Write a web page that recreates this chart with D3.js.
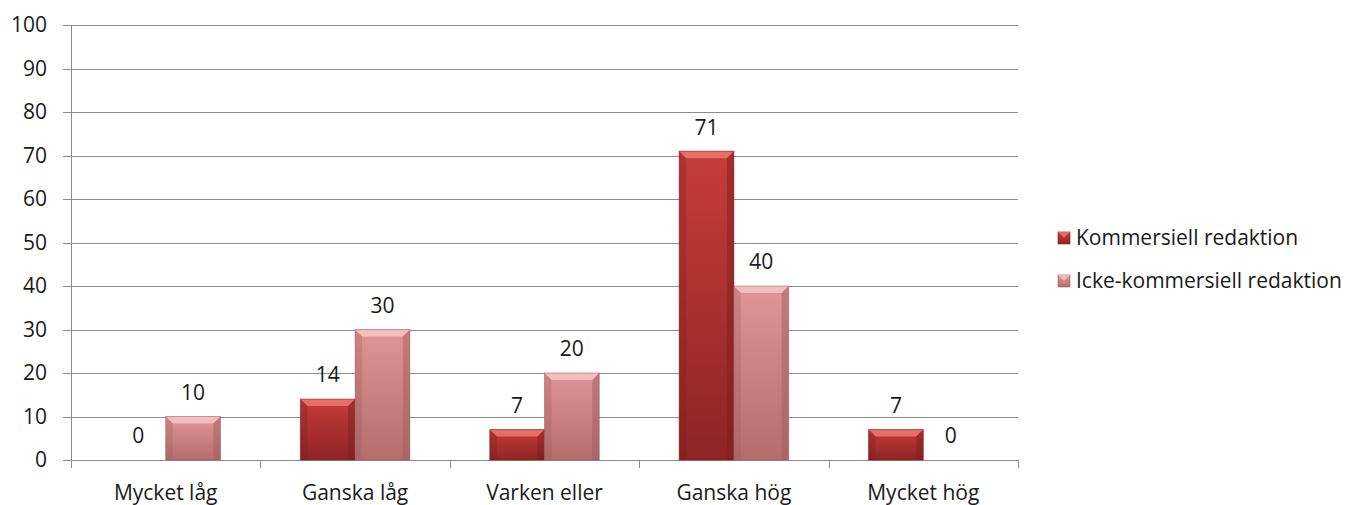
<!DOCTYPE html>
<html>
<head>
<meta charset="utf-8">
<script src="https://cdn.jsdelivr.net/npm/d3@7"></script>
<style>
  body { margin: 0; background: #fff; }
  text { font-family: "Open Sans", Lato, sans-serif; fill: #1a1a1a; }
</style>
</head>
<body>
<script>
// data
const categories = ["Mycket låg", "Ganska låg", "Varken eller", "Ganska hög", "Mycket hög"];
const seriesNames = ["Kommersiell redaktion", "Icke-kommersiell redaktion"];
const kommersiell = [0, 14, 7, 71, 7];
const ickeKommersiell = [10, 30, 20, 40, 0];
const yTicks = [0, 10, 20, 30, 40, 50, 60, 70, 80, 90, 100];

const width = 1357, height = 505;
const margin = { left: 71, right: 339, top: 25, bottom: 45 };
const fontSize = "21px";

const svg = d3.select("body").append("svg")
  .attr("width", width)
  .attr("height", height);

const x = d3.scaleBand()
  .domain(categories)
  .range([margin.left, width - margin.right]);

const xInner = d3.scaleBand()
  .domain(seriesNames)
  .range([0, x.bandwidth()])
  .paddingOuter(0.73);

const y = d3.scaleLinear()
  .domain([0, 100])
  .range([height - margin.bottom, margin.top]);

const colors = {
  "Kommersiell redaktion": { top: "#c53d3a", bottom: "#8e2424", hi: "#ea7470", dark: "#7a1d1d" },
  "Icke-kommersiell redaktion": { top: "#e09696", bottom: "#b46c6c", hi: "#f5c2c2", dark: "#9e5a5a" }
};

const defs = svg.append("defs");
seriesNames.forEach((s, i) => {
  const g = defs.append("linearGradient").attr("id", "grad" + i)
    .attr("x1", 0).attr("y1", 0).attr("x2", 0).attr("y2", 1);
  g.append("stop").attr("offset", "0%").attr("stop-color", colors[s].top);
  g.append("stop").attr("offset", "100%").attr("stop-color", colors[s].bottom);
});

// grid lines
svg.append("g")
  .selectAll("line")
  .data(yTicks)
  .join("line")
  .attr("x1", margin.left - 8)
  .attr("x2", width - margin.right)
  .attr("y1", d => Math.round(y(d)) + 0.5)
  .attr("y2", d => Math.round(y(d)) + 0.5)
  .attr("stroke", "#8c8c8c")
  .attr("stroke-width", 1);

// y labels
svg.append("g")
  .selectAll("text")
  .data(yTicks)
  .join("text")
  .attr("x", margin.left - 24)
  .attr("y", d => y(d))
  .attr("dy", "0.35em")
  .attr("text-anchor", "end")
  .style("font-size", fontSize)
  .text(d => d);

// y axis line
svg.append("line")
  .attr("x1", margin.left + 0.5).attr("x2", margin.left + 0.5)
  .attr("y1", y(100)).attr("y2", y(0))
  .attr("stroke", "#8c8c8c");

// category ticks
svg.append("g")
  .selectAll("line")
  .data(d3.range(categories.length + 1))
  .join("line")
  .attr("x1", i => Math.round(margin.left + i * x.step()) + 0.5)
  .attr("x2", i => Math.round(margin.left + i * x.step()) + 0.5)
  .attr("y1", y(0))
  .attr("y2", y(0) + 8)
  .attr("stroke", "#8c8c8c");

// x labels
svg.append("g")
  .selectAll("text")
  .data(categories)
  .join("text")
  .attr("x", d => x(d) + x.bandwidth() / 2)
  .attr("y", 493)
  .attr("dy", "0.35em")
  .attr("text-anchor", "middle")
  .style("font-size", fontSize)
  .text(d => d);

// bars
const rows = [];
categories.forEach((c, ci) => {
  rows.push({ cat: c, series: seriesNames[0], value: kommersiell[ci], idx: 0 });
  rows.push({ cat: c, series: seriesNames[1], value: ickeKommersiell[ci], idx: 1 });
});

const bars = svg.append("g")
  .selectAll("g")
  .data(rows)
  .join("g")
  .attr("transform", d => `translate(${x(d.cat) + xInner(d.series)},0)`);

const bw = xInner.bandwidth();
const bev = 7;

bars.filter(d => d.value > 0).each(function (d) {
  const g = d3.select(this);
  const top = y(d.value), bot = y(0);
  const h = bot - top;
  const b = Math.min(bev, h / 2);
  g.append("rect")
    .attr("x", 0).attr("y", top)
    .attr("width", bw).attr("height", h)
    .attr("fill", `url(#grad${d.idx})`);
  // top bevel
  g.append("path")
    .attr("d", `M0,${top}L${bw},${top}L${bw - b},${top + b}L${b},${top + b}Z`)
    .attr("fill", colors[d.series].hi).attr("opacity", 0.9);
  // side bevels
  g.append("path")
    .attr("d", `M0,${top}L${b},${top + b}L${b},${bot}L0,${bot}Z`)
    .attr("fill", colors[d.series].dark).attr("opacity", 0.3);
  g.append("path")
    .attr("d", `M${bw},${top}L${bw - b},${top + b}L${bw - b},${bot}L${bw},${bot}Z`)
    .attr("fill", colors[d.series].dark).attr("opacity", 0.45);
  g.append("rect")
    .attr("x", 0).attr("y", top)
    .attr("width", bw).attr("height", h)
    .attr("fill", "none")
    .attr("stroke", colors[d.series].dark).attr("stroke-opacity", 0.5);
});

// value labels
bars.append("text")
  .attr("x", bw / 2)
  .attr("y", d => y(d.value) - 24)
  .attr("dy", "0.35em")
  .attr("text-anchor", "middle")
  .style("font-size", fontSize)
  .text(d => d.value);

// legend
const legend = svg.append("g")
  .selectAll("g")
  .data(seriesNames)
  .join("g")
  .attr("transform", (d, i) => `translate(1058,${238 + i * 43})`);

legend.append("rect")
  .attr("x", 0).attr("y", -6)
  .attr("width", 12).attr("height", 12)
  .attr("fill", (d, i) => `url(#grad${i})`)
  .attr("stroke", d => colors[d].dark).attr("stroke-opacity", 0.6);
legend.append("path")
  .attr("d", "M0,-6L12,-6L6,0Z")
  .attr("fill", d => colors[d].hi).attr("opacity", 0.8);

legend.append("text")
  .attr("x", 18)
  .attr("y", 0)
  .attr("dy", "0.35em")
  .style("font-size", fontSize)
  .text(d => d);
</script>
</body>
</html>
